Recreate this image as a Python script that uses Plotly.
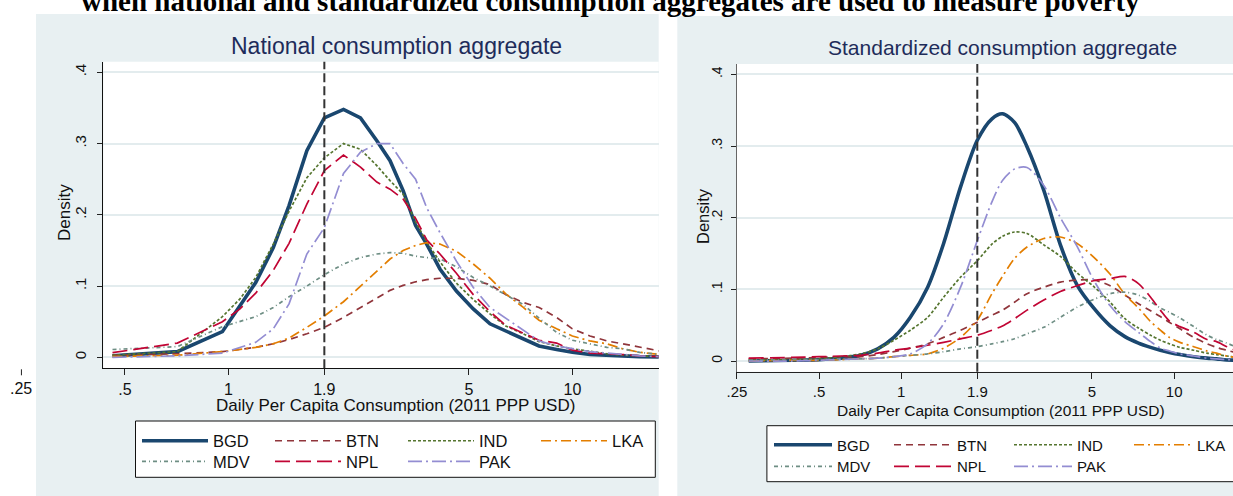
import math
import plotly.graph_objects as go

W, H = 1233, 496

# ---------------- data ----------------
COUNTRIES = ["BGD", "BTN", "IND", "LKA", "MDV", "NPL", "PAK"]

# National consumption aggregate: kernel densities
X_NAT = [0.46, 0.71, 0.96, 1.08, 1.2, 1.35, 1.5, 1.69, 1.9, 2.16, 2.42, 2.7, 2.95, 3.22, 3.5,
         3.77, 4.12, 4.6, 5.15, 5.76, 6.4, 7.2, 8.0, 9.0, 10, 11.25, 12.6, 14, 15.7, 17.9]
NAT_BGD = [0.002, 0.008, 0.036, 0.072, 0.105, 0.154, 0.213, 0.290, 0.336, 0.348, 0.336, 0.304, 0.276, 0.234, 0.185,
           0.159, 0.124, 0.093, 0.068, 0.047, 0.037, 0.025, 0.016, 0.011, 0.007, 0.004, 0.0025, 0.002, 0.001, 0.0005]
NAT_BTN = [0.003, 0.005, 0.008, 0.011, 0.014, 0.019, 0.025, 0.033, 0.042, 0.056, 0.070, 0.084, 0.094, 0.101, 0.106,
           0.109, 0.111, 0.111, 0.108, 0.102, 0.088, 0.077, 0.070, 0.056, 0.040, 0.030, 0.023, 0.019, 0.014, 0.009]
NAT_IND = [0.003, 0.008, 0.057, 0.082, 0.112, 0.159, 0.205, 0.252, 0.280, 0.300, 0.292, 0.269, 0.248, 0.229, 0.190,
           0.162, 0.134, 0.104, 0.081, 0.061, 0.044, 0.033, 0.022, 0.016, 0.012, 0.008, 0.005, 0.003, 0.002, 0.001]
NAT_LKA = [0.001, 0.003, 0.008, 0.011, 0.014, 0.019, 0.027, 0.042, 0.058, 0.078, 0.100, 0.121, 0.138, 0.150, 0.157,
           0.161, 0.159, 0.149, 0.131, 0.111, 0.089, 0.070, 0.052, 0.040, 0.030, 0.023, 0.019, 0.012, 0.007, 0.004]
NAT_MDV = [0.011, 0.015, 0.043, 0.050, 0.057, 0.070, 0.085, 0.100, 0.116, 0.131, 0.140, 0.145, 0.147, 0.146, 0.142,
           0.140, 0.138, 0.127, 0.112, 0.100, 0.088, 0.074, 0.055, 0.035, 0.024, 0.019, 0.014, 0.012, 0.007, 0.004]
NAT_NPL = [0.0065, 0.020, 0.050, 0.068, 0.090, 0.122, 0.160, 0.215, 0.262, 0.284, 0.267, 0.246, 0.236, 0.222, 0.195,
           0.165, 0.145, 0.118, 0.088, 0.064, 0.045, 0.034, 0.024, 0.020, 0.010, 0.006, 0.005, 0.004, 0.002, 0.001]
NAT_PAK = [0.000, 0.002, 0.006, 0.014, 0.021, 0.040, 0.075, 0.145, 0.182, 0.258, 0.288, 0.300, 0.300, 0.272, 0.250,
           0.210, 0.175, 0.135, 0.098, 0.070, 0.055, 0.037, 0.023, 0.016, 0.012, 0.008, 0.006, 0.004, 0.002, 0.001]

# Standardized consumption aggregate: kernel densities
X_STD = [0.276, 0.4, 0.5, 0.6, 0.71, 0.82, 0.94, 1.08, 1.25, 1.43, 1.65, 1.9, 2.15, 2.35, 2.6, 2.89,
         3.33, 3.83, 4.41, 5.07, 5.83, 6.6, 7.4, 8.2, 8.9, 9.6, 10.5, 11.8, 13.2, 14.3, 15.6, 17.9]
STD_BGD = [0.0, 0.001, 0.002, 0.004, 0.008, 0.017, 0.033, 0.061, 0.103, 0.164, 0.243, 0.308, 0.338, 0.345, 0.333, 0.299,
           0.238, 0.162, 0.106, 0.074, 0.049, 0.034, 0.025, 0.019, 0.015, 0.012, 0.009, 0.006, 0.004, 0.003, 0.0015, 0.001]
STD_BTN = [0.003, 0.004, 0.005, 0.006, 0.006, 0.009, 0.013, 0.018, 0.024, 0.033, 0.043, 0.054, 0.064, 0.071, 0.082, 0.094,
           0.103, 0.110, 0.113, 0.113, 0.105, 0.092, 0.080, 0.070, 0.062, 0.054, 0.045, 0.033, 0.024, 0.019, 0.015, 0.009]
STD_IND = [0.001, 0.002, 0.003, 0.006, 0.010, 0.017, 0.029, 0.043, 0.061, 0.089, 0.117, 0.140, 0.163, 0.174, 0.180, 0.178,
           0.162, 0.146, 0.123, 0.104, 0.082, 0.059, 0.046, 0.036, 0.029, 0.024, 0.019, 0.015, 0.011, 0.009, 0.007, 0.004]
STD_LKA = [0.0, 0.001, 0.001, 0.002, 0.003, 0.004, 0.006, 0.008, 0.010, 0.018, 0.033, 0.057, 0.094, 0.118, 0.143, 0.159,
           0.171, 0.173, 0.164, 0.145, 0.121, 0.093, 0.074, 0.055, 0.043, 0.033, 0.026, 0.020, 0.014, 0.011, 0.007, 0.004]
STD_MDV = [0.001, 0.002, 0.002, 0.003, 0.003, 0.004, 0.006, 0.008, 0.010, 0.013, 0.017, 0.020, 0.024, 0.027, 0.031, 0.038,
           0.047, 0.061, 0.075, 0.086, 0.094, 0.096, 0.092, 0.083, 0.074, 0.068, 0.060, 0.048, 0.036, 0.030, 0.025, 0.015]
STD_NPL = [0.004, 0.005, 0.006, 0.007, 0.008, 0.011, 0.015, 0.018, 0.022, 0.026, 0.031, 0.036, 0.043, 0.049, 0.059, 0.071,
           0.085, 0.097, 0.105, 0.112, 0.115, 0.118, 0.108, 0.089, 0.071, 0.056, 0.048, 0.040, 0.030, 0.027, 0.020, 0.010]
STD_PAK = [0.0, 0.0, 0.001, 0.002, 0.003, 0.004, 0.006, 0.010, 0.024, 0.052, 0.103, 0.168, 0.222, 0.252, 0.268, 0.270,
           0.245, 0.200, 0.160, 0.113, 0.077, 0.055, 0.040, 0.027, 0.018, 0.014, 0.010, 0.007, 0.004, 0.003, 0.002, 0.001]

POVERTY_LINE = 1.9
X_TICKS_NAT = [0.5, 1, 1.9, 5, 10]
X_TICKTEXT_NAT = [".5", "1", "1.9", "5", "10"]
X_EXTRA_NAT = (0.25, ".25")
X_TICKS_STD = [0.25, 0.5, 1, 1.9, 5, 10]
X_TICKTEXT_STD = [".25", ".5", "1", "1.9", "5", "10"]
Y_TICKS = [0, 0.1, 0.2, 0.3, 0.4]
Y_TICKTEXT = ["0", ".1", ".2", ".3", ".4"]

MAIN_TITLE = "when national and standardized consumption aggregates are used to measure poverty"
PANEL_TITLES = ["National consumption aggregate", "Standardized consumption aggregate"]
X_TITLE = "Daily Per Capita Consumption (2011 PPP USD)"
Y_TITLE = "Density"

# ---------------- styles ----------------
STYLE = {
    "BGD": dict(color="#1A476F", width=3.6, dash="solid"),
    "BTN": dict(color="#90353B", width=1.7, dash="7px,5px"),
    "IND": dict(color="#55752F", width=1.7, dash="3px,2px"),
    "LKA": dict(color="#E37E00", width=1.7, dash="10px,4px,2px,4px"),
    "MDV": dict(color="#6E8E84", width=1.7, dash="4px,3px,1px,3px"),
    "NPL": dict(color="#C10534", width=1.7, dash="15px,6px"),
    "PAK": dict(color="#938DD2", width=1.7, dash="14px,4px,2px,4px"),
}
BG = "#E8F0F2"
GRID = "#E3ECEE"
TITLE_COLOR = "#1E2C5A"
FONT = "Liberation Sans, Arial, sans-serif"


def fx(px):
    return px / W


def fy(py):
    return 1 - py / H


# plot-area pixel boxes
L_BOX = (103.3, 658.7, 61.7, 368.3)
R_BOX = (736.8, 1233.0, 64.0, 371.7)
L_XR = [-0.364, 1.251]
R_XR = [-0.6025, 1.2157]
L_YR = [-0.0154, 0.4149]
R_YR = [-0.0149, 0.4144]

fig = go.Figure()

NAT = dict(zip(COUNTRIES, [NAT_BGD, NAT_BTN, NAT_IND, NAT_LKA, NAT_MDV, NAT_NPL, NAT_PAK]))
STD = dict(zip(COUNTRIES, [STD_BGD, STD_BTN, STD_IND, STD_LKA, STD_MDV, STD_NPL, STD_PAK]))
ROW1 = ["BGD", "BTN", "IND", "LKA"]

for c in COUNTRIES:
    fig.add_trace(go.Scatter(
        x=X_NAT, y=NAT[c], name=c, mode="lines", line=dict(**STYLE[c]),
        xaxis="x", yaxis="y", legend="legend" if c in ROW1 else "legend2",
        legendgroup="nat_" + c, hoverinfo="skip"))
for c in COUNTRIES:
    kw = {}
    if c == "LKA":
        kw["legendwidth"] = 30
    fig.add_trace(go.Scatter(
        x=X_STD, y=STD[c], name=c, mode="lines", line=dict(shape="spline", smoothing=0.8, **STYLE[c]),
        xaxis="x2", yaxis="y2", legend="legend3" if c in ROW1 else "legend4",
        legendgroup="std_" + c, hoverinfo="skip", **kw))

axis_common = dict(showgrid=False, zeroline=False, showline=True, linewidth=1.2,
                   ticks="outside", ticklen=6, tickwidth=1, tickcolor="#222",
                   fixedrange=True)
yaxis_common = dict(showgrid=True, gridcolor=GRID, gridwidth=1.6, zeroline=False, showline=True,
                    linewidth=1.2, ticks="outside", ticklen=5, tickwidth=1, tickcolor="#222",
                    tickvals=Y_TICKS, ticktext=Y_TICKTEXT, tickangle=-90, fixedrange=True)

shapes = [
    dict(type="rect", xref="paper", yref="paper", x0=fx(36), x1=fx(658.7), y0=fy(496), y1=fy(14),
         fillcolor=BG, line=dict(width=0), layer="below"),
    dict(type="rect", xref="paper", yref="paper", x0=fx(677.3), x1=fx(1233), y0=fy(496), y1=fy(16),
         fillcolor=BG, line=dict(width=0), layer="below"),
    dict(type="rect", xref="paper", yref="paper", x0=fx(L_BOX[0]), x1=fx(L_BOX[1]), y0=fy(L_BOX[3]), y1=fy(L_BOX[2]),
         fillcolor="white", line=dict(width=0), layer="below"),
    dict(type="rect", xref="paper", yref="paper", x0=fx(R_BOX[0]), x1=fx(R_BOX[1]), y0=fy(R_BOX[3]), y1=fy(R_BOX[2]),
         fillcolor="white", line=dict(width=0), layer="below"),
    # legend boxes
    dict(type="rect", xref="paper", yref="paper", x0=fx(135.5), x1=fx(655.3), y0=fy(477.3), y1=fy(421),
         fillcolor="white", line=dict(color="#111", width=1), layer="below"),
    dict(type="rect", xref="paper", yref="paper", x0=fx(766.9), x1=fx(1245), y0=fy(481.7), y1=fy(425.7),
         fillcolor="white", line=dict(color="#111", width=1), layer="below"),
    # poverty line
    dict(type="line", xref="x", yref="y domain", x0=POVERTY_LINE, x1=POVERTY_LINE, y0=0, y1=1,
         line=dict(color="#333", width=2, dash="9px,4px")),
    dict(type="line", xref="x2", yref="y2 domain", x0=POVERTY_LINE, x1=POVERTY_LINE, y0=0, y1=1,
         line=dict(color="#333", width=2, dash="9px,4px")),
]

# extra .25 tick for the national panel (drawn outside its plot area, as in the reference)
lx0, lx1 = fx(L_BOX[0]), fx(L_BOX[1])
x25 = lx0 + (math.log10(X_EXTRA_NAT[0]) - L_XR[0]) / (L_XR[1] - L_XR[0]) * (lx1 - lx0)
shapes.append(dict(type="line", xref="paper", yref="paper", x0=x25, x1=x25, y0=fy(L_BOX[3] + 1), y1=fy(L_BOX[3] + 7),
                   line=dict(color="#222", width=1)))

annotations = [
    dict(text="<b>" + MAIN_TITLE + "</b>", xref="paper", yref="paper", x=fx(610), y=fy(1.2),
         xanchor="center", yanchor="middle", showarrow=False,
         font=dict(family="Liberation Serif, Times New Roman, serif", size=29, color="#000")),
    dict(text=PANEL_TITLES[0], xref="paper", yref="paper", x=fx(396.5), y=fy(46), xanchor="center",
         yanchor="middle", showarrow=False, font=dict(family=FONT, size=23, color=TITLE_COLOR)),
    dict(text=PANEL_TITLES[1], xref="paper", yref="paper", x=fx(1002), y=fy(47.5), xanchor="center",
         yanchor="middle", showarrow=False, font=dict(family=FONT, size=21, color=TITLE_COLOR)),
    dict(text=X_TITLE, xref="paper", yref="paper", x=fx(395), y=fy(405), xanchor="center", yanchor="middle",
         showarrow=False, font=dict(family=FONT, size=17, color="#111")),
    dict(text=X_TITLE, xref="paper", yref="paper", x=fx(1001), y=fy(410), xanchor="center", yanchor="middle",
         showarrow=False, font=dict(family=FONT, size=15.5, color="#111")),
    dict(text=Y_TITLE, xref="paper", yref="paper", x=fx(64), y=fy(213), xanchor="center", yanchor="middle",
         textangle=-90, showarrow=False, font=dict(family=FONT, size=17, color="#111")),
    dict(text=Y_TITLE, xref="paper", yref="paper", x=fx(703), y=fy(216), xanchor="center", yanchor="middle",
         textangle=-90, showarrow=False, font=dict(family=FONT, size=16.5, color="#111")),
    dict(text=X_EXTRA_NAT[1], xref="paper", yref="paper", x=x25, y=fy(388), xanchor="center", yanchor="middle",
         showarrow=False, font=dict(family=FONT, size=16, color="#111")),
]


def legend_cfg(px, py, size, itemwidth, entrywidth):
    return dict(orientation="h", x=fx(px), y=fy(py), xanchor="left", yanchor="middle",
                bgcolor="rgba(0,0,0,0)", borderwidth=0, itemwidth=itemwidth,
                entrywidth=entrywidth, entrywidthmode="pixels", traceorder="normal",
                font=dict(family=FONT, size=size, color="#111"), tracegroupgap=0)


fig.update_layout(
    width=W, height=H,
    margin=dict(l=0, r=0, t=0, b=0, autoexpand=False),
    paper_bgcolor="white", plot_bgcolor="rgba(0,0,0,0)",
    showlegend=True,
    xaxis=dict(domain=[fx(L_BOX[0]), fx(L_BOX[1])], type="log", range=L_XR, tickvals=X_TICKS_NAT,
               ticktext=X_TICKTEXT_NAT, anchor="y", linecolor="#111",
               tickfont=dict(family=FONT, size=16, color="#111"), **axis_common),
    yaxis=dict(domain=[fy(L_BOX[3]), fy(L_BOX[2])], range=L_YR, anchor="x", linecolor="#111",
               ticklabelstandoff=5,
               tickfont=dict(family=FONT, size=15, color="#111"), **yaxis_common),
    xaxis2=dict(domain=[fx(R_BOX[0]), fx(R_BOX[1])], type="log", range=R_XR, tickvals=X_TICKS_STD,
                ticktext=X_TICKTEXT_STD, anchor="y2", linecolor="#222",
                tickfont=dict(family=FONT, size=15, color="#111"), **axis_common),
    yaxis2=dict(domain=[fy(R_BOX[3]), fy(R_BOX[2])], range=R_YR, anchor="x2", linecolor="#666",
                ticklabelstandoff=3,
                tickfont=dict(family=FONT, size=14, color="#111"), **yaxis_common),
    legend=legend_cfg(137, 441, 16.5, 66, 52),
    legend2=legend_cfg(137, 461.7, 16.5, 66, 52),
    legend3=legend_cfg(769, 445, 15, 58, 47),
    legend4=legend_cfg(769, 466.7, 15, 58, 47),
    shapes=shapes,
    annotations=annotations,
)

# the page's default 8px body margin would offset the figure; remove it
fig.write_html("out.html", config={"displayModeBar": False},
               post_script="document.body.style.margin='0px';document.body.style.overflow='hidden';")
